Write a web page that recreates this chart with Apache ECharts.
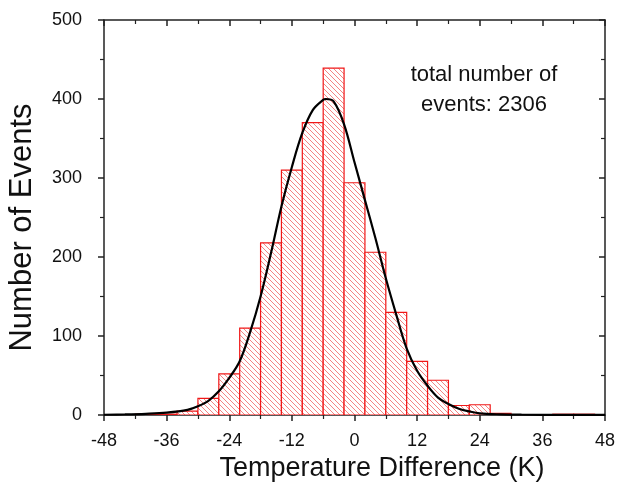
<!DOCTYPE html>
<html>
<head>
<meta charset="utf-8">
<script src="https://cdn.jsdelivr.net/npm/echarts@6/dist/echarts.min.js"></script>
<style>
html,body{margin:0;padding:0;background:#fff;}
#chart{width:619px;height:483px;}
</style>
</head>
<body>
<div id="chart"></div>
<script>
// Histogram bins (center in K) and counts
const binCenters = [-40, -36, -32, -28, -24, -20, -16, -12, -8, -4, 0, 4, 8, 12, 16, 20, 24, 28, 40, 44];
const binCounts  = [1, 1, 5, 21, 52, 110, 218, 310, 370, 439, 294, 206, 130, 68, 44, 12, 13, 2, 1, 1];
const binWidth = 4;

// Fitted curve
const curveX = [-48, -44, -40, -36, -32, -30, -28, -26, -24, -22, -20, -18, -16, -14, -12, -10, -8, -6, -5.5, -4, -2, 0, 2, 4, 6, 8, 10, 12, 14, 16, 18, 20, 22, 24, 28, 32, 40, 48];
const curveY = [0.3, 0.7, 1.5, 3, 6.5, 11, 18, 30, 47, 68, 105, 150, 205, 264, 314, 357, 386, 399, 400, 397, 368, 320, 272, 224, 173, 127, 84, 56, 37, 22, 14, 8, 4.5, 2, 0.8, 0.4, 0.2, 0.1];

const xTicks = { min: -48, max: 48, interval: 12 };
const yTicks = { min: 0, max: 500, interval: 100 };

const FONT = 'Liberation Sans, Arial, Helvetica, sans-serif';

// hatch pattern
const tile = document.createElement('canvas');
tile.width = 5; tile.height = 5;
const tctx = tile.getContext('2d');
tctx.fillStyle = '#ffffff';
tctx.fillRect(0, 0, 5, 5);
tctx.strokeStyle = 'rgba(240,80,80,0.7)';
tctx.lineWidth = 1;
tctx.beginPath();
tctx.moveTo(-1, -1); tctx.lineTo(6, 6);
tctx.moveTo(-6, -1); tctx.lineTo(1, 6);
tctx.moveTo(4, -1); tctx.lineTo(11, 6);
tctx.stroke();
const hatch = { image: tile, repeat: 'repeat' };

const chart = echarts.init(document.getElementById('chart'), null, { renderer: 'canvas' });

const axisLineStyle = { color: '#222', width: 1.5 };

const option = {
  backgroundColor: '#fff',
  animation: false,
  grid: { left: 104, right: 14, top: 20, bottom: 68, containLabel: false, outerBoundsMode: 'none' },
  xAxis: [
    {
      type: 'value', position: 'bottom',
      min: xTicks.min, max: xTicks.max, interval: xTicks.interval,
      name: 'Temperature Difference (K)', nameLocation: 'middle', nameGap: 38,
      nameTextStyle: { fontSize: 27, color: '#111', fontFamily: FONT, padding: [0, 0, 0, 55] },
      axisLine: { show: true, onZero: false, lineStyle: axisLineStyle },
      axisTick: { show: true, inside: false, length: 6, lineStyle: { color: '#222', width: 1.5 } },
      minorTick: { show: true, splitNumber: 2, length: 4, lineStyle: { color: '#222', width: 1.2 } },
      splitLine: { show: false },
      axisLabel: { fontSize: 18, color: '#111', fontFamily: FONT, margin: 17 }
    },
    {
      type: 'value', position: 'top',
      min: xTicks.min, max: xTicks.max, interval: xTicks.interval,
      axisLine: { show: true, onZero: false, lineStyle: axisLineStyle },
      axisTick: { show: true, inside: true, length: 6, lineStyle: { color: '#222', width: 1.5 } },
      minorTick: { show: true, splitNumber: 2, length: 4, lineStyle: { color: '#222', width: 1.2 } },
      splitLine: { show: false },
      axisLabel: { show: false }
    }
  ],
  yAxis: [
    {
      type: 'value', position: 'left',
      min: yTicks.min, max: yTicks.max, interval: yTicks.interval,
      name: 'Number of Events', nameLocation: 'middle', nameGap: 66,
      nameTextStyle: { fontSize: 31, color: '#111', fontFamily: FONT, padding: [0, 20, 0, 0] },
      axisLine: { show: true, onZero: false, lineStyle: axisLineStyle },
      axisTick: { show: true, inside: false, length: 6, lineStyle: { color: '#222', width: 1.5 } },
      minorTick: { show: true, splitNumber: 2, length: 4, lineStyle: { color: '#222', width: 1.2 } },
      splitLine: { show: false },
      axisLabel: { fontSize: 18, color: '#111', fontFamily: FONT, margin: 22 }
    },
    {
      type: 'value', position: 'right',
      min: yTicks.min, max: yTicks.max, interval: yTicks.interval,
      axisLine: { show: true, onZero: false, lineStyle: axisLineStyle },
      axisTick: { show: true, inside: true, length: 6, lineStyle: { color: '#222', width: 1.5 } },
      minorTick: { show: true, splitNumber: 2, length: 4, lineStyle: { color: '#222', width: 1.2 } },
      splitLine: { show: false },
      axisLabel: { show: false }
    }
  ],
  graphic: [
    {
      type: 'text', z: 100,
      x: 484, y: 60,
      style: {
        text: 'total number of\nevents: 2306',
        font: '22px ' + FONT,
        fill: '#111',
        align: 'center',
        verticalAlign: 'top',
        lineHeight: 30
      }
    }
  ],
  series: [
    {
      type: 'custom',
      xAxisIndex: 0, yAxisIndex: 0,
      data: binCenters.map((c, i) => [c, binCounts[i]]),
      clip: true,
      z: 2,
      renderItem: function (params, api) {
        const c = api.value(0), v = api.value(1);
        const p1 = api.coord([c - binWidth / 2, v]);
        const p2 = api.coord([c + binWidth / 2, 0]);
        return {
          type: 'rect',
          shape: { x: p1[0], y: p1[1], width: p2[0] - p1[0], height: p2[1] - p1[1] },
          style: { fill: hatch, stroke: '#f01818', lineWidth: 1.2 }
        };
      }
    },
    {
      type: 'line',
      xAxisIndex: 0, yAxisIndex: 0,
      data: curveX.map((x, i) => [x, curveY[i]]),
      smooth: 0.35,
      showSymbol: false,
      clip: false,
      z: 5,
      lineStyle: { color: '#000', width: 2.2 }
    }
  ]
};
chart.setOption(option);
</script>
</body>
</html>
